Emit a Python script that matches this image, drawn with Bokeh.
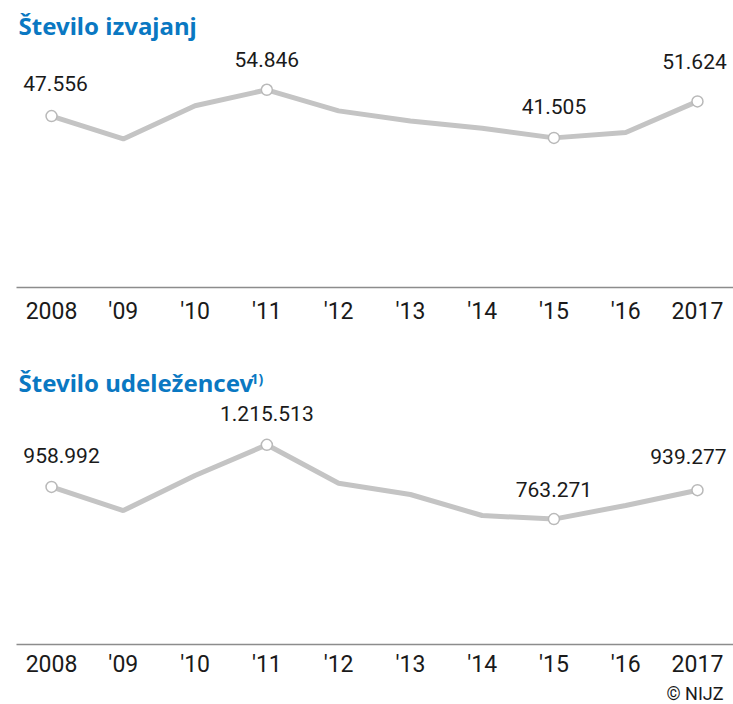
from bokeh.plotting import figure
from bokeh.layouts import column
from bokeh.models import ColumnDataSource, FixedTicker, Label, Range1d, Title
from bokeh.core.properties import value
from bokeh.embed import file_html
from bokeh.resources import INLINE

# ---- data ----
years = [2008, 2009, 2010, 2011, 2012, 2013, 2014, 2015, 2016, 2017]
tick_labels = ["2008", "'09", "'10", "'11", "'12", "'13", "'14", "'15", "'16", "2017"]
izvajanja = [47556, 41200, 50400, 54846, 49000, 46200, 44200, 41505, 43000, 51624]
udelezenci = [958992, 815000, 1028700, 1215513, 981800, 913000, 785200, 763271, 846100, 939277]
labelled_idx = [0, 3, 7, 9]
title_top = "Število izvajanj"
title_bottom = "Število udeležencev"
title_bottom_sup = "1)"
source_note = "© NIJZ"

BLUE = "#0a78c2"
LINE = "#c4c4c4"
MARK = "#b9b9b9"
TXT = "#1a1a1a"
TICK_FONT = "Roboto"
TITLE_FONT = "Noto Sans"


def fmt(v):
    return f"{v:,}".replace(",", ".")


def make_chart(vals, y_end, height, bottom_border, title, xoffs, yoffs, sup=None, note=None,
               label_standoff=4):
    p = figure(width=733, height=height, output_backend="svg", toolbar_location=None,
               x_range=Range1d(2007.512, 2017.502), y_range=Range1d(0, y_end),
               min_border_left=16, min_border_right=0, min_border_top=0,
               min_border_bottom=bottom_border)
    p.outline_line_color = None
    p.grid.visible = False
    p.yaxis.visible = False
    ax = p.xaxis[0]
    ax.ticker = FixedTicker(ticks=years)
    ax.major_label_overrides = {y: t for y, t in zip(years, tick_labels)}
    ax.axis_line_color = "#8c8c8c"
    ax.axis_line_width = 1.5
    ax.major_tick_line_color = None
    ax.minor_tick_line_color = None
    ax.major_label_standoff = label_standoff
    ax.major_label_text_font = TICK_FONT
    ax.major_label_text_font_size = "23px"
    ax.major_label_text_color = TXT

    src = ColumnDataSource(dict(x=years, y=vals))
    p.line("x", "y", source=src, line_color=LINE, line_width=5)

    lx = [years[i] for i in labelled_idx]
    ly = [vals[i] for i in labelled_idx]
    lsrc = ColumnDataSource(dict(x=lx, y=ly, t=[fmt(v) for v in ly], xo=xoffs, yo=yoffs))
    p.scatter("x", "y", source=lsrc, size=11, fill_color="white", line_color=MARK, line_width=1.5)
    p.text("x", "y", text="t", source=lsrc, x_offset="xo", y_offset="yo",
           text_align="center", text_baseline="alphabetic",
           text_font=value(TICK_FONT), text_font_size="21px", text_color=TXT)

    frame_h = 287
    p.add_layout(Label(x=2, y=frame_h - 25, x_units="screen", y_units="screen", text=title,
                       text_font=TITLE_FONT, text_font_style="bold", text_font_size="24px",
                       text_color=BLUE, text_baseline="alphabetic"))
    if sup:
        p.add_layout(Label(x=234, y=frame_h - 21, x_units="screen", y_units="screen", text=sup,
                           text_font=TITLE_FONT, text_font_style="bold", text_font_size="14px",
                           text_color=BLUE, text_baseline="alphabetic"))
    if note:
        p.add_layout(Title(text=note, align="right", text_font=TICK_FONT,
                           text_font_size="18px", text_font_style="normal",
                           text_color=TXT, standoff=0, offset=10), "below")
    return p


p1 = make_chart(izvajanja, 287 * 277.4, 357, 70, title_top,
                [4, 0, 0, -3], [-33, -30, -31, -40])
p2 = make_chart(udelezenci, 287 * 6087, 347, 60, title_bottom,
                [10, 0, 0, -9], [-31, -31, -30, -34], sup=title_bottom_sup, note=source_note,
                label_standoff=0)

layout = column(p1, p2, spacing=0)
open("out.html", "w").write(file_html(layout, INLINE))
